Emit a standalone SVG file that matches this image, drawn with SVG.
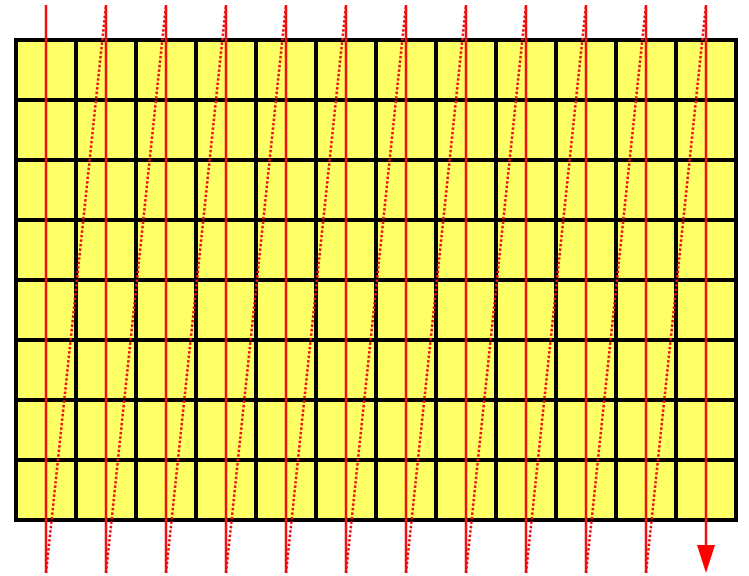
<svg xmlns="http://www.w3.org/2000/svg" width="749" height="576" viewBox="0 0 749 576">
<style>
.cell{fill:#ffff66;stroke:#000;stroke-width:4}
.v{stroke:#f01010;stroke-width:2.5;fill:none}
.d{stroke:#f01010;stroke-width:2.5;fill:none;stroke-dasharray:2.5 2}
</style>
<defs>
<marker id="ah" markerUnits="userSpaceOnUse" markerWidth="28" markerHeight="18" viewBox="0 0 28 18" refX="0" refY="9" orient="auto">
<path d="M0,0 L28,9 L0,18 z" fill="#ff0000"/>
</marker>
</defs>
<rect width="749" height="576" fill="#fff"/>
<g id="grid">
<rect id="area" x="16" y="40" width="720" height="480" class="cell"/>
<path id="gridlines" d="M76,40V520M136,40V520M196,40V520M256,40V520M316,40V520M376,40V520M436,40V520M496,40V520M556,40V520M616,40V520M676,40V520M16,100H736M16,160H736M16,220H736M16,280H736M16,340H736M16,400H736M16,460H736" stroke="#000" stroke-width="4" fill="none"/>
</g>
<g id="connectors">
<path class="v" d="M46,5V573M106,5V573M166,5V573M226,5V573M286,5V573M346,5V573M406,5V573M466,5V573M526,5V573M586,5V573M646,5V573"/>
<line class="v" x1="706" y1="5" x2="706" y2="545" marker-end="url(#ah)"/>
<path class="d" d="M46,573L106,5M106,573L166,5M166,573L226,5M226,573L286,5M286,573L346,5M346,573L406,5M406,573L466,5M466,573L526,5M526,573L586,5M586,573L646,5M646,573L706,5"/>
</g>
</svg>
